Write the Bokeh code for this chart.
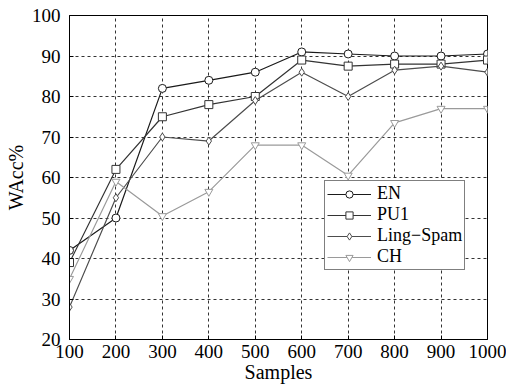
from bokeh.plotting import figure
from bokeh.models import Legend, LegendItem, Range1d, FixedTicker
from bokeh.embed import file_html
from bokeh.resources import INLINE

samples = [100, 200, 300, 400, 500, 600, 700, 800, 900, 1000]
en = [42, 50, 82, 84, 86, 91, 90.5, 90, 90, 90.5]
pu1 = [39, 62, 75, 78, 80, 89, 87.5, 88, 88, 89]
ling = [28, 55, 70, 69, 79, 86, 80, 86.5, 87.5, 86]
ch = [35, 59, 50.5, 56.5, 68, 68, 60.5, 73.5, 77, 77]
x_ticks = [100, 200, 300, 400, 500, 600, 700, 800, 900, 1000]
y_ticks = [20, 30, 40, 50, 60, 70, 80, 90, 100]

FONT = "Liberation Serif"

p = figure(width=506, height=385, output_backend="svg", toolbar_location=None,
           x_range=Range1d(100, 1000), y_range=Range1d(20, 100),
           min_border_left=69, min_border_right=19, min_border_top=15, min_border_bottom=45)
p.background_fill_color = "white"
p.border_fill_color = "white"
p.outline_line_color = "black"
p.outline_line_width = 1

for ax in (p.xaxis[0], p.yaxis[0]):
    ax.major_label_text_font = FONT
    ax.major_label_text_font_size = "19px"
    ax.major_label_text_color = "black"
    ax.axis_label_text_font = FONT
    ax.axis_label_text_font_size = "20px"
    ax.axis_label_text_font_style = "normal"
    ax.axis_label_text_color = "black"
    ax.major_tick_in = 4
    ax.major_tick_out = 0
    ax.minor_tick_line_color = None
    ax.axis_line_color = "black"
    ax.major_tick_line_color = "black"

p.xaxis.ticker = FixedTicker(ticks=x_ticks)
p.yaxis.ticker = FixedTicker(ticks=y_ticks)
p.xaxis.axis_label = "Samples"
p.yaxis.axis_label = "WAcc%"
p.xaxis.axis_label_standoff = 0
p.yaxis.axis_label_standoff = 2
p.xaxis.major_label_standoff = 5
p.yaxis.major_label_standoff = 9

p.xgrid.grid_line_color = "black"
p.ygrid.grid_line_color = "black"
p.xgrid.grid_line_dash = "3 3"
p.ygrid.grid_line_dash = "3 3"
p.xgrid.grid_line_alpha = 0.8
p.ygrid.grid_line_alpha = 0.8

series = [
    ("EN", en, "#1a1a1a", "circle"),
    ("PU1", pu1, "#333333", "square"),
    ("Ling\u2212Spam", ling, "#4d4d4d", "diamond"),
    ("CH", ch, "#9a9a9a", "inverted_triangle"),
]
items = []
for name, ys, col, mk in series:
    r1 = p.line(samples, ys, line_color=col, line_width=1.2)
    r2 = p.scatter(samples, ys, marker=mk, size=8, line_color=col, fill_color="white", line_width=1)
    items.append(LegendItem(label=name, renderers=[r1, r2]))

legend = Legend(items=items, location=(255, 69))
legend.label_text_font = FONT
legend.label_text_font_size = "18px"
legend.label_text_color = "black"
legend.border_line_color = "black"
legend.border_line_width = 1
legend.glyph_width = 44
legend.glyph_height = 18
legend.label_height = 18
legend.spacing = 0
legend.padding = 2
legend.margin = 0
legend.label_standoff = 6
legend.background_fill_alpha = 1
p.add_layout(legend, "center")

open("out.html", "w").write(file_html(p, INLINE))
